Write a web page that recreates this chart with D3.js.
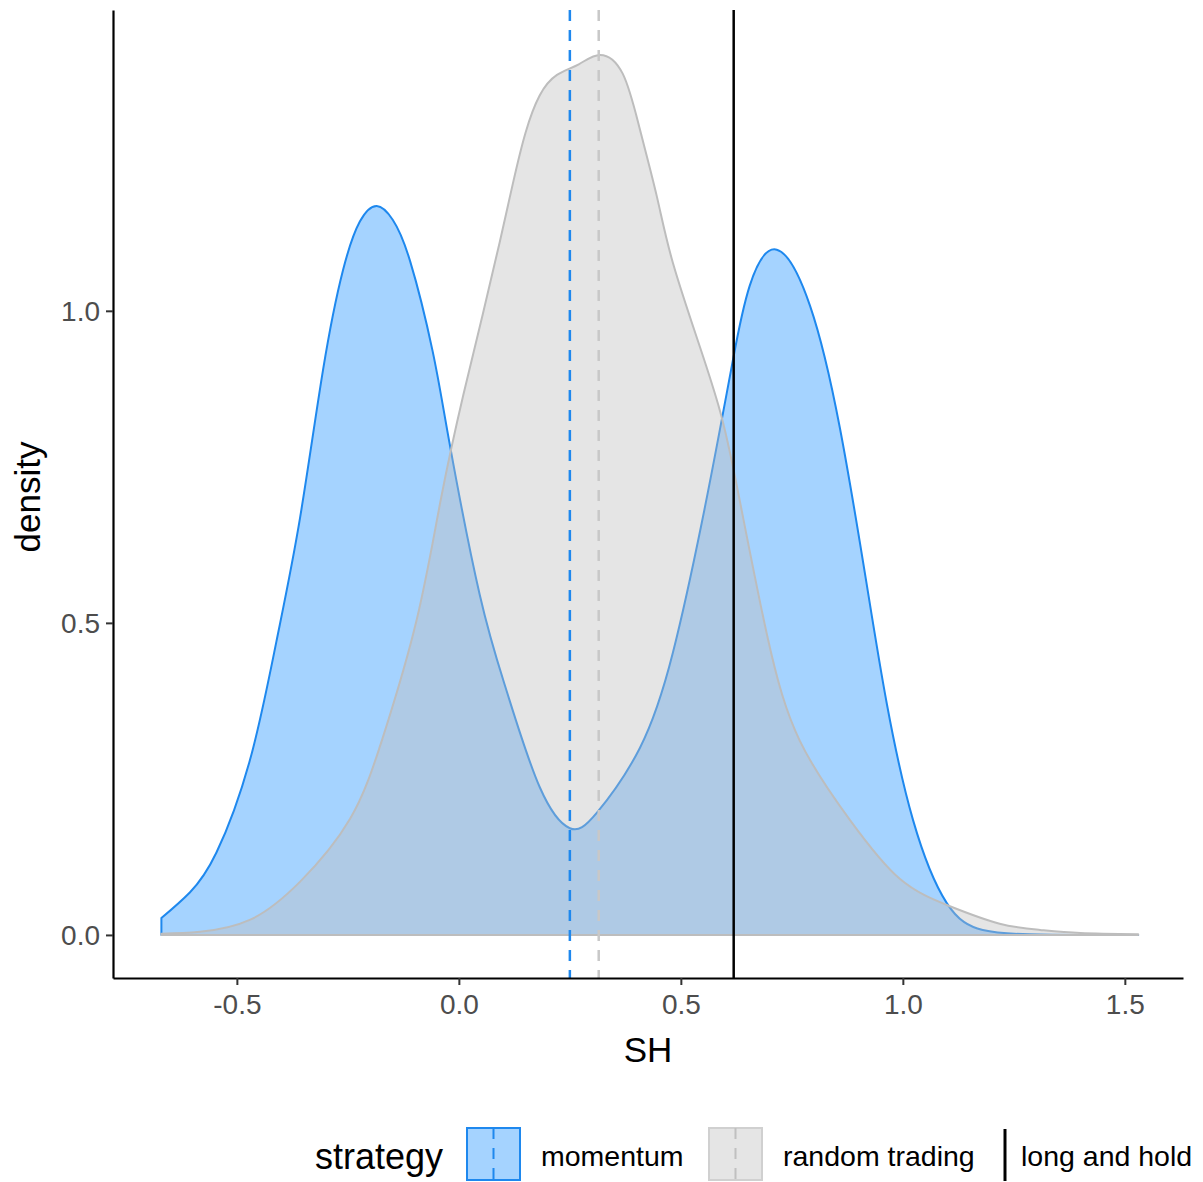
<!DOCTYPE html>
<html>
<head>
<meta charset="utf-8">
<script src="https://cdn.jsdelivr.net/npm/d3@7"></script>
<style>
body { margin: 0; background: white; }
text { font-family: "Liberation Sans", Arial, sans-serif; }
.tick-label { font-size: 28px; fill: #4d4d4d; }
.axis-title { font-size: 35px; fill: black; }
.legend-title { font-size: 36px; fill: black; }
.legend-label { font-size: 28.5px; fill: black; }
</style>
</head>
<body>
<script>
const width = 1203
const height = 1182
const plot = {left: 113, right: 1183, top: 10, bottom: 978}

// density estimates
const momentumSH = [-0.670, -0.606, -0.546, -0.471, -0.411, -0.358, -0.306, -0.261, -0.223, -0.185,
    -0.149, -0.110, -0.059, -0.020, 0.047, 0.108, 0.182, 0.250, 0.311, 0.408,
    0.482, 0.547, 0.588, 0.617, 0.655, 0.716, 0.791, 0.858, 0.919, 0.964,
    1.023, 1.099, 1.180, 1.286, 1.400, 1.530]
const momentumDensity = [0.027, 0.068, 0.132, 0.279, 0.470, 0.667, 0.905, 1.065, 1.143, 1.168,
    1.146, 1.080, 0.935, 0.784, 0.545, 0.390, 0.237, 0.171, 0.196, 0.300,
    0.452, 0.660, 0.810, 0.920, 1.040, 1.098, 1.008, 0.813, 0.560, 0.370,
    0.184, 0.051, 0.008, 0.001, 0.000, 0.000]

const randomSH = [-0.670, -0.583, -0.471, -0.358, -0.245, -0.171, -0.095, -0.040, 0.010, 0.054,
    0.092, 0.122, 0.150, 0.182, 0.221, 0.270, 0.318, 0.369, 0.408, 0.446,
    0.482, 0.543, 0.588, 0.626, 0.694, 0.768, 0.881, 0.993, 1.106, 1.218,
    1.309, 1.400, 1.530]
const randomDensity = [0.002, 0.005, 0.024, 0.085, 0.186, 0.317, 0.505, 0.700, 0.865, 0.995,
    1.110, 1.205, 1.285, 1.345, 1.378, 1.395, 1.410, 1.380, 1.290, 1.183,
    1.077, 0.942, 0.840, 0.720, 0.481, 0.311, 0.184, 0.090, 0.046, 0.018,
    0.008, 0.003, 0.001]

const momentumMean = 0.250
const randomMean = 0.315
const longAndHold = 0.619

const xTicks = [-0.5, 0.0, 0.5, 1.0, 1.5]
const yTicks = [0.0, 0.5, 1.0]
const legendLabels = ["momentum", "random trading", "long and hold"]

const blue = "#1e88ee"
const blueFill = "rgba(30,144,255,0.4)"
const grey = "#bdbdbd"
const greyFill = "rgba(190,190,190,0.4)"

const x = d3.scaleLinear().domain([-0.779, 1.631]).range([plot.left, plot.right])
const y = d3.scaleLinear().domain([-0.069, 1.482]).range([plot.bottom, plot.top])

const svg = d3.select("body").append("svg")
    .attr("width", width)
    .attr("height", height)

// smooth outline through the read points, then clip to the baseline
const smooth = d3.line().curve(d3.curveNatural)
const clip = svg.append("defs").append("clipPath").attr("id", "above-zero")
clip.append("rect")
    .attr("x", 0).attr("y", 0)
    .attr("width", width).attr("height", y(0) + 1)

const series = [
    {name: "momentum", pts: d3.zip(momentumSH, momentumDensity), fill: blueFill, stroke: blue},
    {name: "random", pts: d3.zip(randomSH, randomDensity), fill: greyFill, stroke: grey},
]

const densityPath = s => {
    const pts = s.pts.map(([a, b]) => [x(a), y(b)])
    const first = pts[0], last = pts[pts.length - 1]
    return smooth(pts) + `L${last[0]},${y(0)}L${first[0]},${y(0)}Z`
}

svg.append("g")
    .attr("clip-path", "url(#above-zero)")
    .selectAll("path.density")
    .data(series)
    .enter()
    .append("path")
    .attr("class", "density")
    .attr("d", densityPath)
    .attr("fill", s => s.fill)
    .attr("stroke", s => s.stroke)
    .attr("stroke-width", 2)
    .attr("stroke-linejoin", "round")

// mean lines
const vlines = [
    {v: momentumMean, color: blue, dash: "11,9"},
    {v: randomMean, color: "#c8c8c8", dash: "11,9"},
    {v: longAndHold, color: "black", dash: null},
]
svg.selectAll("line.vline")
    .data(vlines)
    .enter()
    .append("line")
    .attr("class", "vline")
    .attr("x1", d => x(d.v))
    .attr("x2", d => x(d.v))
    .attr("y1", plot.top)
    .attr("y2", plot.bottom)
    .attr("stroke", d => d.color)
    .attr("stroke-width", 2.5)
    .attr("stroke-dasharray", d => d.dash)

// axes
const fmt = d => d.toFixed(1)
const xAxis = svg.append("g")
    .attr("transform", `translate(0,${plot.bottom})`)
    .call(d3.axisBottom(x).tickValues(xTicks).tickFormat(fmt).tickSize(7).tickSizeOuter(0))
const yAxis = svg.append("g")
    .attr("transform", `translate(${plot.left},0)`)
    .call(d3.axisLeft(y).tickValues(yTicks).tickFormat(fmt).tickSize(7).tickSizeOuter(0))

for (const ax of [xAxis, yAxis]) {
    ax.attr("font-size", null).attr("font-family", null)
    ax.select(".domain").attr("stroke", "black").attr("stroke-width", 2.2)
    ax.selectAll(".tick line").attr("stroke", "#333").attr("stroke-width", 2)
    ax.selectAll(".tick text").attr("class", "tick-label")
}
xAxis.selectAll(".tick text").attr("dy", null).attr("y", 36)
yAxis.selectAll(".tick text").attr("x", -13).attr("dy", "0.35em")

svg.append("text")
    .attr("class", "axis-title")
    .attr("x", 648)
    .attr("y", 1062)
    .attr("text-anchor", "middle")
    .text("SH")
svg.append("text")
    .attr("class", "axis-title")
    .attr("transform", "translate(40,497) rotate(-90)")
    .attr("text-anchor", "middle")
    .text("density")

// legend
const legend = svg.append("g")
legend.append("text")
    .attr("class", "legend-title")
    .attr("x", 315)
    .attr("y", 1169)
    .text("strategy")

const keys = [
    {x: 467, fill: blueFill, stroke: blue, dash: blue},
    {x: 709, fill: greyFill, stroke: "#d0d0d0", dash: "#c0c0c0"},
]
keys.forEach(k => {
    legend.append("rect")
        .attr("x", k.x).attr("y", 1128)
        .attr("width", 53).attr("height", 52)
        .attr("fill", k.fill)
        .attr("stroke", k.stroke)
        .attr("stroke-width", 2)
    legend.append("line")
        .attr("x1", k.x + 26.5).attr("x2", k.x + 26.5)
        .attr("y1", 1128).attr("y2", 1180)
        .attr("stroke", k.dash)
        .attr("stroke-width", 2)
        .attr("stroke-dasharray", "11,9")
})
legend.append("line")
    .attr("x1", 1005).attr("x2", 1005)
    .attr("y1", 1129).attr("y2", 1181)
    .attr("stroke", "black")
    .attr("stroke-width", 3)

const labelX = [541, 783, 1021]
legend.selectAll("text.legend-label")
    .data(legendLabels)
    .enter()
    .append("text")
    .attr("class", "legend-label")
    .attr("x", (d, i) => labelX[i])
    .attr("y", 1166)
    .text(d => d)
</script>
</body>
</html>
